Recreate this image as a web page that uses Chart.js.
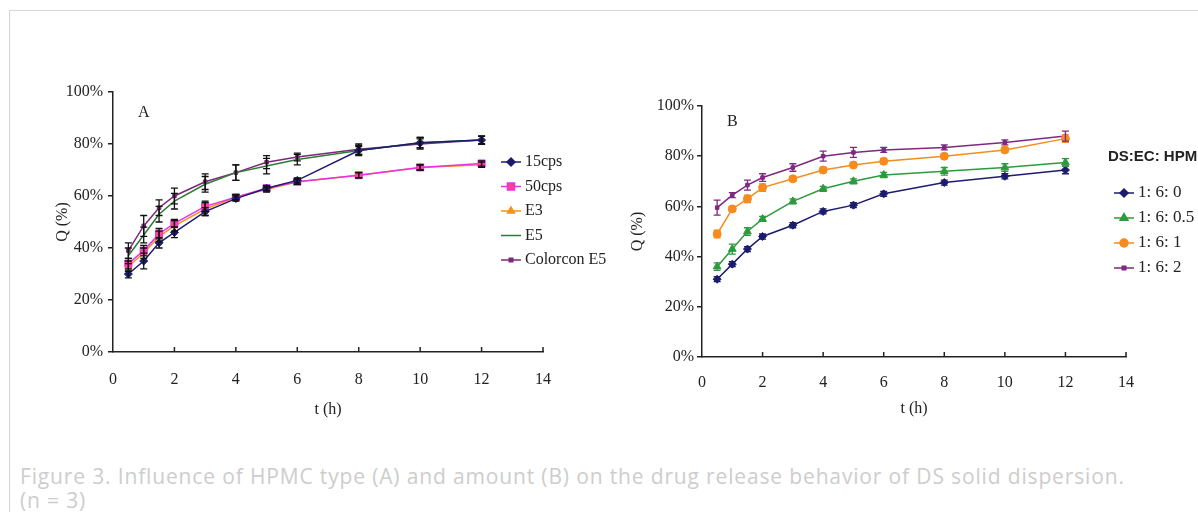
<!DOCTYPE html>
<html>
<head>
<meta charset="utf-8">
<script src="https://cdn.jsdelivr.net/npm/chart.js@4.4.1/dist/chart.umd.min.js"></script>
<style>
  html, body { margin: 0; padding: 0; background: #fff; }
  body { width: 1198px; height: 512px; position: relative; overflow: hidden; }
  .frame { position: absolute; left: 9px; top: 10px; width: 1200px; height: 520px; border-left: 1px solid #d6d6d6; border-top: 1px solid #d6d6d6; }
  #chartA { position: absolute; left: 0; top: 0; }
  #chartB { position: absolute; left: 580px; top: 0; }
  .caption { position: absolute; left: 20px; top: 464px; font-family: "Open Sans", sans-serif; font-size: 21px; letter-spacing: 0.85px; line-height: 24px; color: #cdcdcd; white-space: nowrap; }
</style>
</head>
<body>
<div class="frame"></div>
<canvas id="chartA" width="640" height="440"></canvas>
<canvas id="chartB" width="618" height="440"></canvas>
<div class="caption">Figure 3. Influence of HPMC type (A) and amount (B) on the drug release behavior of DS solid dispersion.<br>(n = 3)</div>
<script>
// time points (h)
const times = [0.5, 1, 1.5, 2, 3, 4, 5, 6, 8, 10, 12];
const xTicks = [0, 2, 4, 6, 8, 10, 12, 14];

// panel A - HPMC type
const labelsA = ["15cps", "50cps", "E3", "E5", "Colorcon E5"];
const cps15 = [30, 35, 42, 46, 54, 59, 63, 66, 77.5, 80.5, 81.5];
const cps50 = [34, 39, 45.5, 49.5, 56, 59.5, 63, 65.5, 68, 71, 72.5];
const e3 = [33, 38, 44.5, 48.5, 55, 59.5, 62.5, 65.5, 68, 71, 72];
const e5 = [37, 45, 53, 58, 64.5, 69, 71.5, 74, 77.5, 80.5, 81.5];
const colorcon = [39, 48.5, 55.5, 60, 65.5, 69, 73, 75, 78, 80, 81.5];
const sdCps15 = [1.5, 3, 2, 2, 1.5, 1, 1, 1, 1.5, 2, 1.5];
const sdCps50 = [2, 2, 2, 1.5, 2, 1, 1, 1, 1, 1, 1];
const sdE3 = [2, 2, 2, 2, 2.5, 1, 1, 1, 1, 1, 1];
const sdE5 = [3, 3, 3, 3, 3, 3, 3, 2, 2, 2, 1.5];
const sdColorcon = [3, 4, 3, 3, 3, 3, 2.5, 1.5, 2, 2, 1.5];

// panel B - HPMC amount
const labelsB = ["1: 6: 0", "1: 6: 0.5", "1: 6: 1", "1: 6: 2"];
const b0 = [31, 37, 43, 48, 52.5, 58, 60.5, 65, 69.5, 72, 74.5];
const b05 = [36, 43, 50, 55, 62, 67, 70, 72.5, 74, 75.5, 77.5];
const b1 = [49, 59, 63, 67.5, 71, 74.5, 76.5, 78, 80, 82.5, 87];
const b2 = [59.5, 64.5, 68.5, 71.5, 75.5, 80, 81.5, 82.5, 83.5, 85.5, 88];
const sdB0 = [1, 1, 1, 1, 1, 1, 1, 1, 1, 1, 1.5];
const sdB05 = [1.5, 2, 1.5, 1, 1, 1, 1, 1, 1.5, 1.5, 1.5];
const sdB1 = [1.5, 1, 1.5, 1.5, 1, 1, 1, 1, 1, 1, 1.5];
const sdB2 = [3, 1, 2, 1.5, 1.5, 2, 2, 1, 1, 1, 2];

const serif = "'Liberation Serif', 'Times New Roman', serif";

function pts(vals) {
  return vals.map((v, i) => ({ x: times[i], y: v }));
}

function series(label, vals, sd, color, fill, style, radius, barColor) {
  return {
    label: label,
    data: pts(vals),
    sd: sd,
    barColor: barColor || color,
    borderColor: color,
    backgroundColor: fill,
    borderWidth: 1.5,
    pointStyle: style,
    pointRadius: radius,
    pointBorderWidth: 1,
    pointBorderColor: color,
    pointBackgroundColor: fill,
    tension: 0,
    fill: false,
  };
}

// error bars + inner x ticks + panel letter + legend
const extras = {
  id: "extras",
  afterDatasetsDraw(chart, args, opts) {
    const ctx = chart.ctx;
    const xs = chart.scales.x, ys = chart.scales.y;
    ctx.save();
    chart.data.datasets.forEach((ds) => {
      if (!ds.sd) return;
      ctx.strokeStyle = ds.barColor;
      ctx.lineWidth = 1.3;
      ds.data.forEach((p, i) => {
        const s = ds.sd[i];
        const px = xs.getPixelForValue(p.x);
        const top = ys.getPixelForValue(p.y + s);
        const bot = ys.getPixelForValue(p.y - s);
        ctx.beginPath();
        ctx.moveTo(px, top); ctx.lineTo(px, bot);
        ctx.moveTo(px - 3.5, top); ctx.lineTo(px + 3.5, top);
        ctx.moveTo(px - 3.5, bot); ctx.lineTo(px + 3.5, bot);
        ctx.stroke();
      });
    });
    ctx.restore();
  },
  afterDraw(chart, args, opts) {
    const ctx = chart.ctx;
    const xs = chart.scales.x;
    const area = chart.chartArea;
    ctx.save();
    ctx.strokeStyle = "#222";
    ctx.lineWidth = 1.5;
    xTicks.forEach((t) => {
      if (t === 0) return;
      const px = xs.getPixelForValue(t);
      ctx.beginPath();
      ctx.moveTo(px, area.bottom); ctx.lineTo(px, area.bottom - 5);
      ctx.stroke();
    });
    ctx.fillStyle = "#222";
    ctx.font = "16px " + serif;
    ctx.textBaseline = "middle";
    ctx.textAlign = "left";
    ctx.fillText(opts.letter, opts.letterX, opts.letterY);

    // legend
    const lg = opts.legend;
    if (lg.title) {
      ctx.font = "bold 15px 'Liberation Sans', Arial, sans-serif";
      ctx.fillStyle = "#222";
      ctx.fillText(lg.title, lg.titleX, lg.titleY);
    }
    ctx.font = lg.size + "px " + serif;
    chart.data.datasets.forEach((ds, i) => {
      const y = lg.y + i * lg.gap;
      ctx.strokeStyle = ds.borderColor;
      ctx.lineWidth = 1.5;
      ctx.beginPath();
      ctx.moveTo(lg.x, y); ctx.lineTo(lg.x + 20, y);
      ctx.stroke();
      if (ds.pointRadius > 0) {
        ctx.fillStyle = ds.backgroundColor;
        ctx.strokeStyle = ds.borderColor;
        Chart.helpers.drawPoint(ctx, { pointStyle: ds.pointStyle, radius: ds.pointRadius, rotation: 0, borderWidth: 1 }, lg.x + 10, y);
      }
      ctx.fillStyle = "#222";
      ctx.fillText(ds.label, lg.x + 24, y);
    });
    ctx.restore();
  },
};

function makeScales(yWidth, xHeight, tickPad, xTickPad) {
  return {
    x: {
      type: "linear",
      min: 0,
      max: 14,
      afterBuildTicks: (s) => { s.ticks = xTicks.map((v) => ({ value: v })); },
      afterFit: (s) => { s.height = xHeight; },
      grid: { drawOnChartArea: false, drawTicks: false },
      border: { display: true, color: "#222", width: 1.5 },
      ticks: { color: "#222", padding: xTickPad, maxRotation: 0, font: { family: serif, size: 16 } },
      title: { display: true, text: "t (h)", color: "#222", font: { family: serif, size: 16 } },
    },
    y: {
      min: 0,
      max: 100,
      afterFit: (s) => { s.width = yWidth; },
      grid: { drawOnChartArea: false, drawTicks: true, tickLength: 5, color: "#222", lineWidth: 1.5 },
      border: { display: true, color: "#222", width: 1.5 },
      ticks: { stepSize: 20, color: "#222", padding: tickPad, font: { family: serif, size: 16 }, callback: (v) => v + "%" },
      title: { display: true, text: "Q (%)", color: "#222", font: { family: serif, size: 16 } },
    },
  };
}

new Chart(document.getElementById("chartA"), {
  type: "line",
  data: {
    datasets: [
      series(labelsA[0], cps15, sdCps15, "#1c1c6e", "#1c1c6e", "rectRot", 4, "#111"),
      series(labelsA[1], cps50, sdCps50, "#e633e6", "#ff3f9a", "rect", 5, "#111"),
      series(labelsA[2], e3, sdE3, "#f7901e", "#f7901e", "triangle", 4, "#111"),
      series(labelsA[3], e5, sdE5, "#2f7a36", "#2f7a36", "circle", 0, "#111"),
      series(labelsA[4], colorcon, sdColorcon, "#7a2a78", "#7a2a78", "rect", 2.5, "#111"),
    ],
  },
  options: {
    responsive: false,
    animation: false,
    layout: { padding: { left: 49, top: 92, right: 97, bottom: 17 } },
    scales: makeScales(64, 71, 5, 18),
    plugins: {
      legend: { display: false },
      tooltip: { enabled: false },
      extras: {
        letter: "A", letterX: 138, letterY: 113,
        legend: { x: 501, y: 162, gap: 24.5, size: 16 },
      },
    },
  },
  plugins: [extras],
});

new Chart(document.getElementById("chartB"), {
  type: "line",
  data: {
    datasets: [
      series(labelsB[0], b0, sdB0, "#1c1c6e", "#1c1c6e", "rectRot", 4),
      series(labelsB[1], b05, sdB05, "#2e9a3e", "#2e9a3e", "triangle", 4.5),
      series(labelsB[2], b1, sdB1, "#f68b1f", "#f68b1f", "circle", 4),
      series(labelsB[3], b2, sdB2, "#7d2a80", "#7d2a80", "rect", 2.5),
    ],
  },
  options: {
    responsive: false,
    animation: false,
    layout: { padding: { left: 44, top: 106, right: 72, bottom: 18 } },
    scales: makeScales(78, 65, 3, 16),
    plugins: {
      legend: { display: false },
      tooltip: { enabled: false },
      extras: {
        letter: "B", letterX: 147, letterY: 122,
        legend: { x: 534, y: 193, gap: 25, size: 17, title: "DS:EC: HPMC", titleX: 528, titleY: 157 },
      },
    },
  },
  plugins: [extras],
});
</script>
</body>
</html>
